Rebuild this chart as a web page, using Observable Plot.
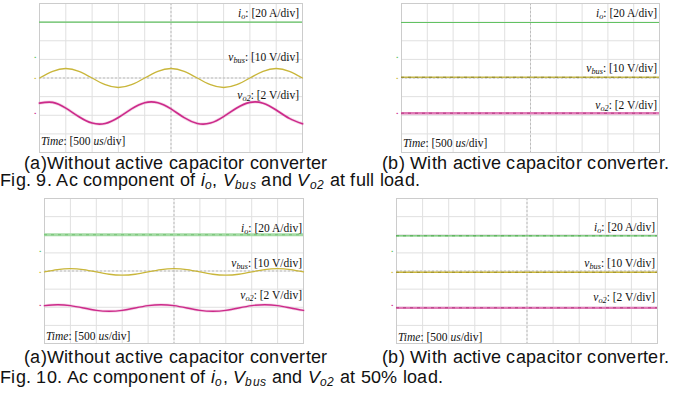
<!DOCTYPE html>
<html><head><meta charset="utf-8">
<script src="https://cdn.jsdelivr.net/npm/d3@7"></script>
<script src="https://cdn.jsdelivr.net/npm/@observablehq/plot@0.6"></script>
<style>
@font-face{font-family:"CapSans";src:local("Liberation Sans"),local("LiberationSans-Regular");font-style:normal;ascent-override:80%;descent-override:10%;line-gap-override:0%;}
@font-face{font-family:"CapSans";src:local("Liberation Sans Italic"),local("LiberationSans-Italic");font-style:italic;ascent-override:80%;descent-override:10%;line-gap-override:0%;}
body{margin:0;background:#fff;}
#root{position:relative;width:678px;height:397px;overflow:hidden;font-family:"Liberation Sans",Arial,sans-serif;background:#fff;}
.panel{position:absolute;}
.lbl{position:absolute;font-family:"Liberation Serif","Times New Roman",serif;font-size:11.5px;color:#111;white-space:nowrap;line-height:12px;}
.lbl sub{font-size:72%;vertical-align:-2px;line-height:0;}
.cap{position:absolute;font-family:"CapSans","Liberation Sans",Arial,sans-serif;font-size:18.2px;letter-spacing:0.28px;color:#111;white-space:nowrap;line-height:17px;}
.cap sub{font-size:66%;vertical-align:-3px;line-height:0;}
</style></head><body><div id="root"></div>
<script>
// time axis: 10 div x 500 us/div, samples every half division
const timeUs = [0,250,500,750,1000,1250,1500,1750,2000,2250,2500,2750,3000,3250,3500,3750,4000,4250,4500,4750,5000];
const gridTimes = [0,500,1000,1500,2000,2500,3000,3500,4000,4500,5000];
const gridDivs = [-4,-3,-2,-1,0,1,2,3,4];

// Fig. 9 (a): full load, without active capacitor converter (values in divisions)
const fullWithoutIo = 3.0;
const fullWithoutVbus = [0,0.36,0.51,0.36,0,-0.36,-0.51,-0.36,0,0.36,0.51,0.36,0,-0.36,-0.51,-0.36,0,0.36,0.51,0.36,0];
const fullWithoutVo2 = [-1.35,-1.31,-1.62,-2.08,-2.42,-2.44,-2.12,-1.66,-1.33,-1.33,-1.66,-2.13,-2.44,-2.42,-2.07,-1.61,-1.31,-1.35,-1.72,-2.17,-2.46];
// Fig. 9 (b): full load, with active capacitor converter
const fullWithIo = 2.98;
const fullWithVbus = 0.04;
const fullWithVo2 = -1.89;
// Fig. 10 (a): 50% load, without
const halfWithoutIo = 2.0;
const halfWithoutVbus = [-0.05,0.08,0.13,0.08,-0.05,-0.18,-0.23,-0.18,-0.05,0.08,0.13,0.08,-0.05,-0.18,-0.23,-0.18,-0.05,0.08,0.13,0.08,-0.05];
const halfWithoutVo2 = [-1.91,-1.86,-1.91,-2.04,-2.17,-2.22,-2.17,-2.04,-1.91,-1.86,-1.91,-2.04,-2.17,-2.22,-2.17,-2.04,-1.91,-1.86,-1.91,-2.04,-2.17];
// Fig. 10 (b): 50% load, with
const halfWithIo = 1.94;
const halfWithVbus = -0.07;
const halfWithVo2 = -2.03;

// channel reference markers (divisions)
const markerLevels = {full:[1.1,0.0,-1.9], half:[1.1,-0.1,-1.9]};

const labelIo = '<i>i<sub>o</sub></i>: [20 A/div]';
const labelVbus = '<i>v<sub>bus</sub></i>: [10 V/div]';
const labelVo2 = '<i>v<sub>o2</sub></i>: [2 V/div]';
const labelTime = '<i>Time</i>: [500 <i>us</i>/div]';

const capA = '(a)Without active capacitor converter';
const capB = '(b) With active capacitor converter.';
const fig9 = 'Fig. 9. Ac component of <i>i<sub>o</sub></i>, <i>V<sub>bus</sub></i> and <i>V<sub>o2</sub></i> at full load.';
const fig10 = 'Fig. 10. Ac component of <i>i<sub>o</sub></i>, <i>V<sub>bus</sub></i> and <i>V<sub>o2</sub></i> at 50% load.';

const GREEN = "#62c262", YELLOW = "#c9b63a", MAGENTA = "#cc2a8a";
const root = document.getElementById("root");

function series(arr){ return timeUs.map((t,i)=>({t, v: arr[i]})); }

function makePanel(p){
  const mL=8,mR=6,mT=1,mB=4;
  const marks = [
    Plot.ruleX(gridTimes, {stroke:"#e0e0e0"}),
    Plot.ruleY(gridDivs, {stroke:"#e0e0e0"}),
    Plot.ruleX([2500], {stroke:"#bdbdbd", strokeDasharray:"2,2"}),
    Plot.ruleY([0], {stroke:"#bdbdbd", strokeDasharray:"2,2"}),
    Plot.frame({stroke:"#cccccc"}),
    Plot.text(p.markers.map((v,i)=>({v,i})), {x: () => 0, y:"v", dx:-4, text: () => "▪", fill: d => [GREEN,YELLOW,MAGENTA][d.i], fontSize:5}),
    ...p.traces
  ];
  const svg = Plot.plot({
    width: p.w+mL+mR, height: p.h+mT+mB,
    marginLeft:mL, marginRight:mR, marginTop:mT, marginBottom:mB,
    x:{domain:[0,5000], axis:null}, y:{domain:[-4,4], axis:null},
    style:{background:"transparent", overflow:"visible"},
    marks
  });
  const div = document.createElement("div");
  div.className = "panel";
  div.style.left = (p.x - mL) + "px";
  div.style.top = (p.y - mT) + "px";
  div.appendChild(svg);
  root.appendChild(div);
  const right = p.x + p.w;
  const add = (html, style) => {
    const s = document.createElement("div");
    s.className = "lbl"; s.innerHTML = html;
    Object.assign(s.style, style);
    root.appendChild(s);
  };
  add(labelIo, {right:(678 - right + p.lr) + "px", top:(p.ly[0]-6)+"px"});
  add(labelVbus, {right:(678 - right + p.lr) + "px", top:(p.ly[1]-6)+"px"});
  add(labelVo2, {right:(678 - right + p.lr) + "px", top:(p.ly[2]-6)+"px"});
  add(labelTime, {left:(p.x + 2) + "px", top:(p.ly[3]-6)+"px"});
}

function flat(level, color, w, fuzz){
  const out = [Plot.ruleY([level], {stroke: color, strokeWidth: w})];
  if (fuzz) out.push(Plot.ruleY([level], {stroke: fuzz, strokeWidth: 1, strokeDasharray:"3,4", strokeOpacity:0.7}));
  return out;
}
function wave(arr, color, w, halo){
  const out = [];
  if (halo) out.push(Plot.line(series(arr), {x:"t", y:"v", stroke: halo, strokeWidth: w+1.5, strokeOpacity:0.35, curve:"natural"}));
  out.push(Plot.line(series(arr), {x:"t", y:"v", stroke: color, strokeWidth: w, curve:"natural"}));
  return out;
}

makePanel({x:39, y:3, w:263, h:149, lr:3, ly:[13,57,95,141], markers:markerLevels.full,
  traces:[...flat(fullWithoutIo, GREEN, 1.2), ...wave(fullWithoutVbus, YELLOW, 1.3), ...wave(fullWithoutVo2, MAGENTA, 1.6, "#e58cc0")]});
makePanel({x:401, y:3, w:258, h:149, lr:2, ly:[13,68,105,143], markers:markerLevels.full,
  traces:[...flat(fullWithIo, GREEN, 1.2), ...flat(fullWithVbus, "#c2b54a", 1.4, "#7a7428"), ...flat(fullWithVo2, "#e07ab6", 2.4, "#a0206a")]});
makePanel({x:44, y:198, w:259, h:145, lr:1, ly:[228,263,295,336], markers:markerLevels.half,
  traces:[...flat(halfWithoutIo, "#a4dba4", 3, "#5fb85f"), ...wave(halfWithoutVbus, YELLOW, 1.3), ...wave(halfWithoutVo2, MAGENTA, 1.4, "#e58cc0")]});
makePanel({x:396, y:198, w:261, h:145, lr:2, ly:[227,263,297,337], markers:markerLevels.half,
  traces:[...flat(halfWithIo, GREEN, 1.3, "#3f9a3f"), ...flat(halfWithVbus, YELLOW, 1.3, "#8a7f2a"), ...flat(halfWithVo2, "#e07ab6", 2.2, "#a0206a")]});

function cap(html, left, top){
  const d = document.createElement("div");
  d.className = "cap"; d.innerHTML = html;
  d.style.left = left + "px"; d.style.top = top + "px";
  root.appendChild(d);
}
cap(capA, 24, 154); cap(capB, 382, 154); cap(fig9, 0, 171);
cap(capA, 24, 348); cap(capB, 382, 348); cap(fig10, 0, 368);
</script></body></html>
